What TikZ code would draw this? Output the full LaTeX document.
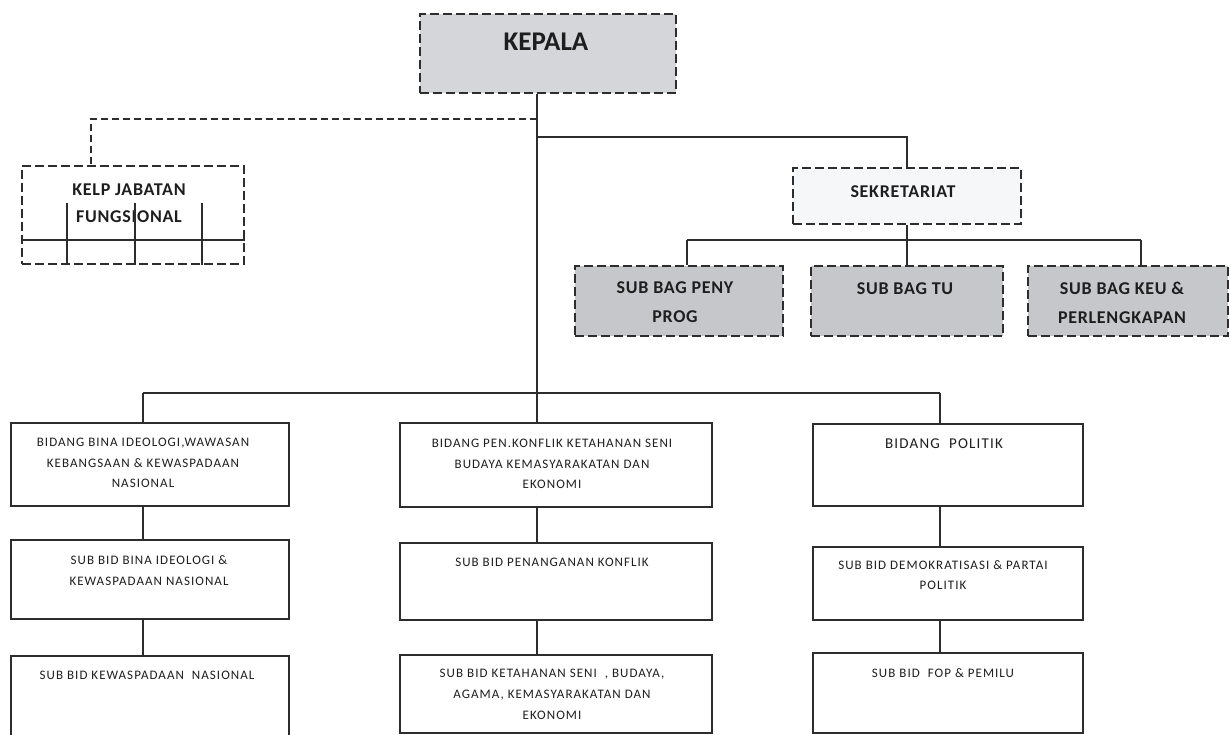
\documentclass[tikz,border=0pt]{standalone}
\usepackage{fontspec}
\setmainfont{Carlito}
\newfontfamily\widefont[LetterSpace=8]{Carlito}
\newfontfamily\topfont[LetterSpace=4]{Carlito}
\usetikzlibrary{calc}
\definecolor{kgray}{RGB}{212,214,218}
\definecolor{sgray}{RGB}{198,199,202}
\definecolor{sekfill}{RGB}{246,247,249}
\definecolor{lncol}{RGB}{45,45,45}
\definecolor{txcol}{RGB}{30,30,30}
\tikzset{
  dbox/.style={draw=lncol, line width=1.5pt, dash pattern=on 9pt off 4pt, rectangle, inner sep=0pt},
  sbox/.style={draw=lncol, line width=1.3pt, rectangle, inner sep=0pt, fill=white},
  conn/.style={draw=lncol, line width=1.1pt},
  dconn/.style={draw=lncol, line width=1.1pt, dash pattern=on 7pt off 4pt},
  inner/.style={draw=lncol, line width=1.2pt},
  txt/.style={inner sep=0pt, align=center, text=txcol},
  bigtxt/.style={txt, font=\topfont\bfseries\fontsize{18}{27}\selectfont},
  smalltxt/.style={txt, font=\widefont\fontsize{13}{20.5}\selectfont},
}
\begin{document}
\begin{tikzpicture}[x=1pt,y=-1pt]
\fill[white] (0,0) rectangle (1230,735);
\useasboundingbox (0,0) rectangle (1230,735);

% top boxes
\node[dbox, fill=kgray, minimum width=256pt, minimum height=79pt] (kepala) at (548,53.5) {};
\node[txt, font=\fontsize{27}{30}\selectfont\bfseries] (tkepala) at (546,42) {KEPALA};

\node[dbox, fill=white, minimum width=222pt, minimum height=98pt] (kelp) at (133,215) {};
\node[bigtxt, anchor=north] (tkelp) at (129,183.5) {KELP JABATAN\\FUNGSIONAL};

\node[dbox, fill=sekfill, minimum width=228pt, minimum height=56pt] (sek) at (907,196) {};
\node[bigtxt] (tsek) at (903,192) {SEKRETARIAT};

\node[dbox, fill=sgray, minimum width=208pt, minimum height=70pt] (sb1) at (679,301) {};
\node[bigtxt, anchor=north] (tsb1) at (675,281.5) {SUB BAG PENY\\[2pt]PROG};
\node[dbox, fill=sgray, minimum width=192pt, minimum height=70pt] (sb2) at (907,301) {};
\node[bigtxt] (tsb2) at (905,289) {SUB BAG TU};
\node[dbox, fill=sgray, minimum width=200pt, minimum height=70pt] (sb3) at (1128,301) {};
\node[bigtxt, anchor=north] (tsb3) at (1122,281.5) {SUB BAG KEU \&\\[2pt]PERLENGKAPAN};

% inner lines of kelp box
\coordinate (kl1) at (67,203);
\coordinate (kl2) at (135,203);
\coordinate (kl3) at (202,203);
\coordinate (kh) at (0,240);
\draw[inner] (kelp.west |- kh) -- (kelp.east |- kh);
\draw[inner] (kl1) -- (kl1 |- kelp.south);
\draw[inner] (kl2) -- (kl2 |- kelp.south);
\draw[inner] (kl3) -- (kl3 |- kelp.south);

% bottom boxes
\node[sbox, minimum width=278pt, minimum height=83pt] (b1) at (150,464.5) {};
\node[sbox, minimum width=278pt, minimum height=79pt] (s1) at (150,579.5) {};
\node[sbox, minimum width=278pt, minimum height=86pt] (t1) at (150,699) {};
\node[sbox, minimum width=312pt, minimum height=84pt] (b2) at (556,465) {};
\node[sbox, minimum width=312pt, minimum height=77pt] (s2) at (556,581.5) {};
\node[sbox, minimum width=312pt, minimum height=78pt] (t2) at (556,694) {};
\node[sbox, minimum width=270pt, minimum height=82pt] (b3) at (948,465) {};
\node[sbox, minimum width=270pt, minimum height=73pt] (s3) at (948,583.5) {};
\node[sbox, minimum width=270pt, minimum height=80pt] (t3) at (948,693) {};

\node[smalltxt, anchor=north] (tb1) at (143,438) {BIDANG BINA IDEOLOGI,WAWASAN\\KEBANGSAAN \& KEWASPADAAN\\NASIONAL};
\node[smalltxt, anchor=north, font=\widefont\fontsize{13}{21}\selectfont] (ts1) at (149,555) {SUB BID BINA IDEOLOGI \&\\KEWASPADAAN NASIONAL};
\node[smalltxt] (tt1) at (147,675) {SUB BID KEWASPADAAN\ \ NASIONAL};
\node[smalltxt, anchor=north] (tb2) at (552,439) {BIDANG PEN.KONFLIK KETAHANAN SENI\\BUDAYA KEMASYARAKATAN DAN\\EKONOMI};
\node[smalltxt] (ts2) at (552,562) {SUB BID PENANGANAN KONFLIK};
\node[smalltxt, anchor=north, font=\widefont\fontsize{13}{21}\selectfont] (tt2) at (552,669) {SUB BID KETAHANAN SENI\ \ , BUDAYA,\\AGAMA, KEMASYARAKATAN DAN\\EKONOMI};
\node[txt, font=\widefont\fontsize{15}{18}\selectfont] (tb3) at (944,444) {BIDANG\ \ POLITIK};
\node[smalltxt, anchor=north, font=\widefont\fontsize{13}{20}\selectfont] (ts3) at (943,560) {SUB BID DEMOKRATISASI \& PARTAI\\POLITIK};
\node[smalltxt] (tt3) at (943,673) {SUB BID\ \ FOP \& PEMILU};

% connectors
\coordinate (jd) at (537,119);
\coordinate (kx) at (91,119);
\coordinate (js) at (537,137);
\coordinate (jb) at (537,393);
\coordinate (jl) at (143,393);
\coordinate (jr) at (940,393);
\coordinate (c1) at (687,240);
\coordinate (c3) at (1141,240);

\draw[conn] (kepala.south -| jb) -- (jb |- b2.north);
\draw[dconn] (jd) -- (kx) -- (kx |- kelp.north);
\draw[conn] (js) -| (sek.north);
\draw[conn] (sek.south) -- (sb2.north);
\draw[conn] (c1) -- (c3);
\draw[conn] (c1) -- (c1 |- sb1.north);
\draw[conn] (c3) -- (c3 |- sb3.north);

\draw[conn] (jl) -- (jr);
\draw[conn] (jl) -- (jl |- b1.north);
\draw[conn] (jr) -- (jr |- b3.north);
\draw[conn] (b1.south -| jl) -- (s1.north -| jl);
\draw[conn] (s1.south -| jl) -- (t1.north -| jl);
\draw[conn] (b2.south -| jb) -- (s2.north -| jb);
\draw[conn] (s2.south -| jb) -- (t2.north -| jb);
\draw[conn] (b3.south -| jr) -- (s3.north -| jr);
\draw[conn] (s3.south -| jr) -- (t3.north -| jr);
\end{tikzpicture}
\end{document}
